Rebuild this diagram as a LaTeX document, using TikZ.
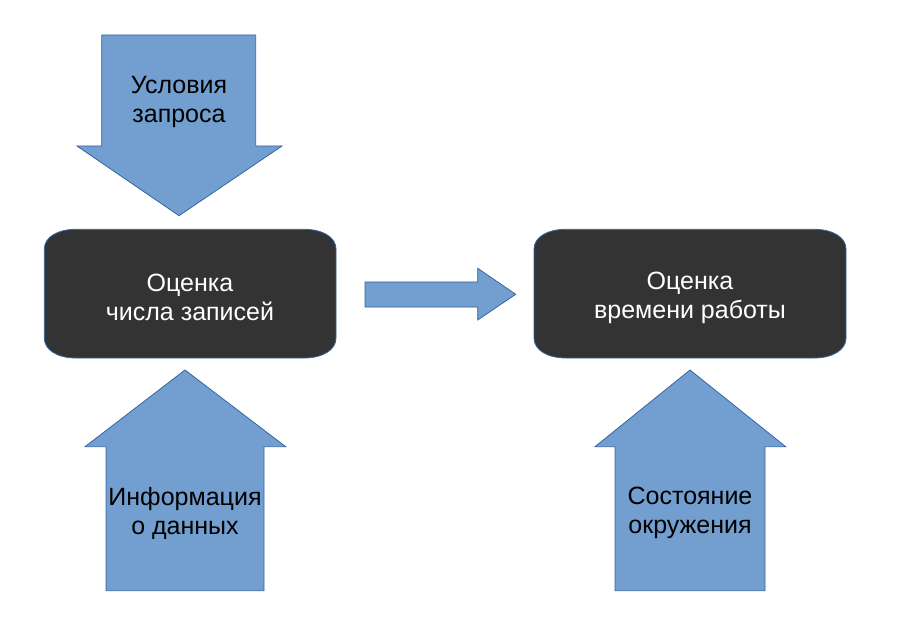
\documentclass[tikz,border=0pt]{standalone}
\usepackage{fontspec}
\setmainfont{Liberation Sans}
\definecolor{arrowfill}{HTML}{729FCF}
\definecolor{arrowline}{HTML}{3465A4}
\definecolor{boxfill}{HTML}{333333}
\tikzset{
  arrowshape/.style={fill=arrowfill,draw=arrowline,line width=0.8pt,line join=miter},
  boxshape/.style={fill=boxfill,draw=arrowline,line width=0.8pt},
  lbl/.style={font=\fontsize{25}{29}\selectfont,align=center,text=black,inner sep=0pt},
  wlbl/.style={lbl,text=white}
}
\begin{document}
\begin{tikzpicture}[x=1pt,y=-1pt]
\useasboundingbox (0,0) rectangle (910,628);
% top down arrow
\draw[arrowshape] (101.7,35) -- (255.7,35) -- (255.7,146) -- (282,146) -- (179,215.7) -- (77,146) -- (101.7,146) -- cycle;
\node[lbl] (cond) at (179,102) {Условия\\запроса};
% box 1
\draw[boxshape] (76,229.3) -- (304,229.3) .. controls (322.6,229.3) and (336,237.3) .. (336,249) -- (336,338) .. controls (336,350) and (322.6,358) .. (304,358) -- (76,358) .. controls (57.4,358) and (44.3,350) .. (44.3,338) -- (44.3,249) .. controls (44.3,237.3) and (57.4,229.3) .. (76,229.3) -- cycle;
\node[wlbl] (est1) at (190,297.5) {Оценка\\числа записей};
% box 2
\draw[boxshape] (566,229.3) -- (814,229.3) .. controls (832.6,229.3) and (846,237.3) .. (846,249) -- (846,338) .. controls (846,350) and (832.6,358) .. (814,358) -- (566,358) .. controls (547.4,358) and (534,350) .. (534,338) -- (534,249) .. controls (534,237.3) and (547.4,229.3) .. (566,229.3) -- cycle;
\node[wlbl] (est2) at (690,297.5) {Оценка\\времени работы};
% right arrow
\draw[arrowshape] (365,282) -- (477.7,282) -- (477.7,268.3) -- (515.7,294.3) -- (477.7,320) -- (477.7,307) -- (365,307) -- cycle;
% bottom up arrow 1
\draw[arrowshape] (185,370) -- (285.7,446.7) -- (264,446.7) -- (264,590.7) -- (106,590.7) -- (106,446.7) -- (85,446.7) -- cycle;
\node[lbl] (info) at (185,513) {Информация\\о данных};
% bottom up arrow 2
\draw[arrowshape] (690,370) -- (785.7,446.7) -- (765,446.7) -- (765,590.7) -- (615,590.7) -- (615,446.7) -- (595,446.7) -- cycle;
\node[lbl] (env) at (690,513) {Состояние\\окружения};
\end{tikzpicture}
\end{document}
